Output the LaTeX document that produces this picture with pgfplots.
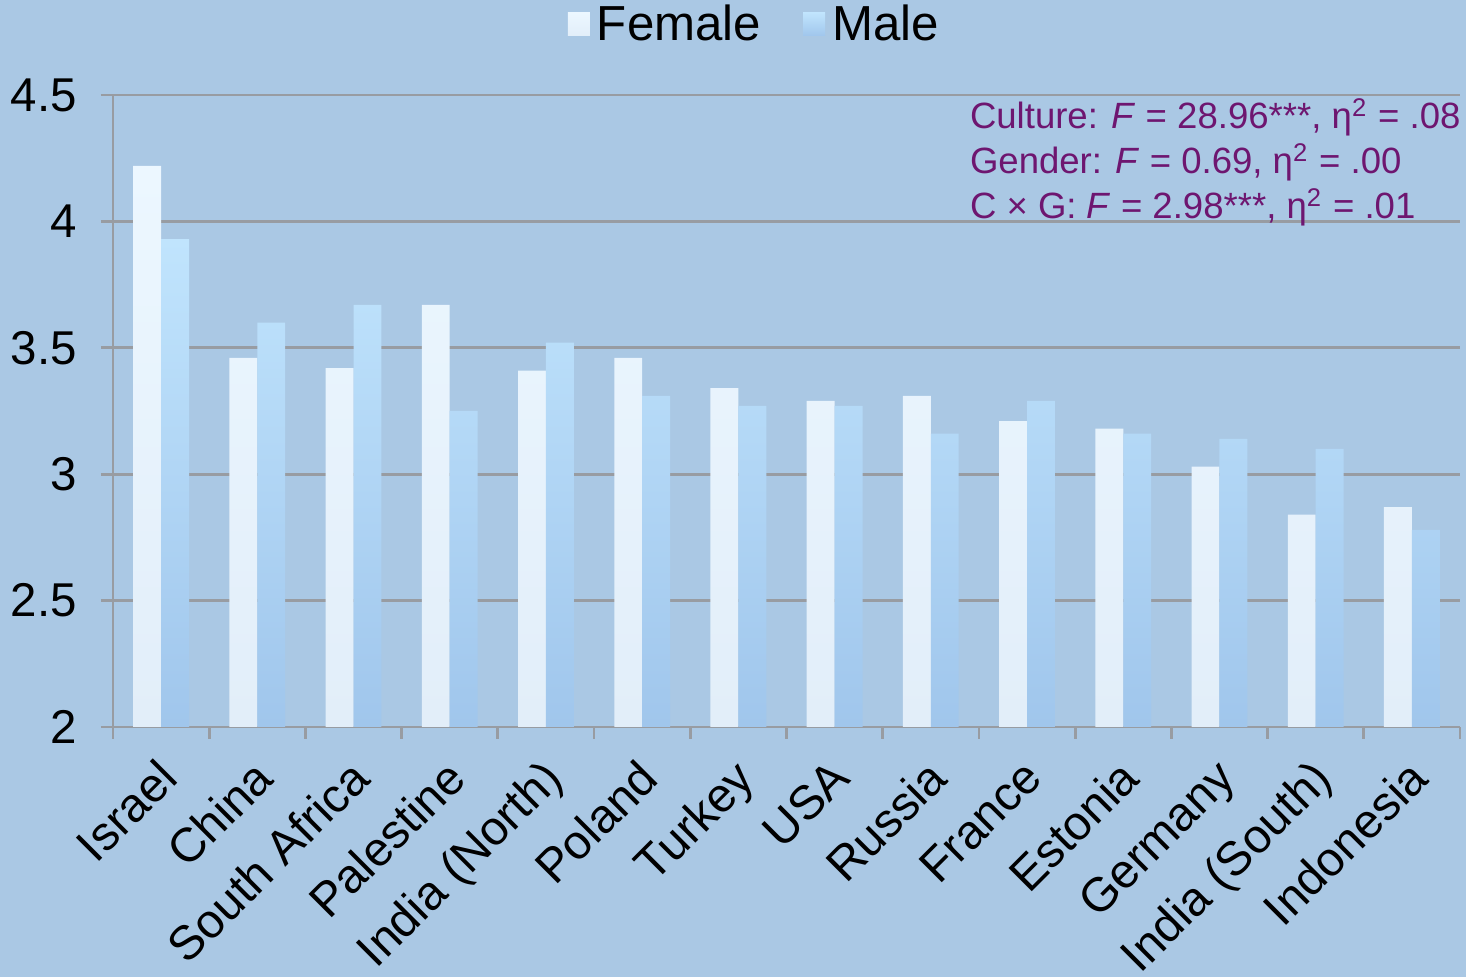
\documentclass[border=0pt]{standalone}
\usepackage{fontspec}
\setmainfont{Liberation Sans}
\usepackage{pgfplots}
\pgfplotsset{compat=1.18}
\usepackage{xcolor}
\definecolor{bg}{RGB}{170,200,228}
\definecolor{femtop}{RGB}{236,247,255}
\definecolor{fembot}{RGB}{226,238,249}
\definecolor{maltop}{RGB}{192,228,253}
\definecolor{malbot}{RGB}{160,198,236}
\definecolor{gridc}{RGB}{152,156,162}
\definecolor{stat}{RGB}{110,22,112}

\begin{document}
\begin{tikzpicture}
  \fill[bg] (-1.13cm,-2.50cm) rectangle (13.53cm,7.27cm);
  \begin{axis}[
    at={(0,0)}, anchor=south west,
    scale only axis, width=13.47cm, height=6.32cm,
    ymin=2, ymax=4.5, xmin=-0.5, xmax=13.5,
    ytick={2,2.5,3,3.5,4,4.5},
    xtick={0,...,13},
    xticklabels={Israel, China, South Africa, Palestine, India (North), Poland,
      Turkey, USA, Russia, France, Estonia, Germany, India (South), Indonesia},
    xtick style={draw=none},
    extra x ticks={-0.5,0.5,...,13.5},
    extra x tick labels={},
    extra x tick style={xtick style={draw=gridc, line width=0.8pt}, grid=none},
    ybar=0pt, bar width=0.29,
    axis x line*=bottom, axis y line*=left,
    axis line style={gridc, line width=0.8pt},
    tick align=outside,
    major tick length=0.12cm,
    ytick style={gridc, line width=0.8pt},
    ymajorgrids, grid style={gridc, line width=0.8pt},
    /pgf/number format/assume math mode=true,
    yticklabel style={font=\fontsize{13.5}{16}\selectfont, xshift=-0.12cm},
    xticklabel style={font=\fontsize{13.6}{16}\selectfont,
      xshift=-0.06cm, yshift=-0.12cm, rotate=45,
      anchor=north east, inner sep=1pt},
    legend style={at={(0.478,1.111)}, anchor=center, draw=none, fill=none,
      font=\fontsize{14}{16}\selectfont, legend columns=2,
      /tikz/every even column/.append style={column sep=0.35cm}},
    legend image code/.code={\path[#1] (0cm,-0.11cm) rectangle (0.22cm,0.12cm);},
  ]
  \addplot[draw=none, top color=femtop, bottom color=fembot] coordinates {
    (0,4.22) (1,3.46) (2,3.42) (3,3.67) (4,3.41) (5,3.46) (6,3.34)
    (7,3.29) (8,3.31) (9,3.21) (10,3.18) (11,3.03) (12,2.84) (13,2.87)
  };
  \addlegendentry{Female}
  \addplot[draw=none, top color=maltop, bottom color=malbot] coordinates {
    (0,3.93) (1,3.60) (2,3.67) (3,3.25) (4,3.52) (5,3.31) (6,3.27)
    (7,3.27) (8,3.16) (9,3.29) (10,3.16) (11,3.14) (12,3.10) (13,2.78)
  };
  \addlegendentry{Male}
  \node[stat, anchor=north west, align=left, inner sep=0pt,
    font=\fontsize{10.4}{12.8}\selectfont] at (axis cs:8.40,4.49)
    {Culture: \textit{F} = 28.96***, η\textsuperscript{2} = .08\\
     Gender: \textit{F} = 0.69, η\textsuperscript{2} = .00\\
     C × G: \textit{F} = 2.98***, η\textsuperscript{2} = .01};
  \end{axis}
  \pgfresetboundingbox
  \path[use as bounding box] (-1.13cm,-2.50cm) rectangle (13.53cm,7.27cm);
\end{tikzpicture}
\end{document}
